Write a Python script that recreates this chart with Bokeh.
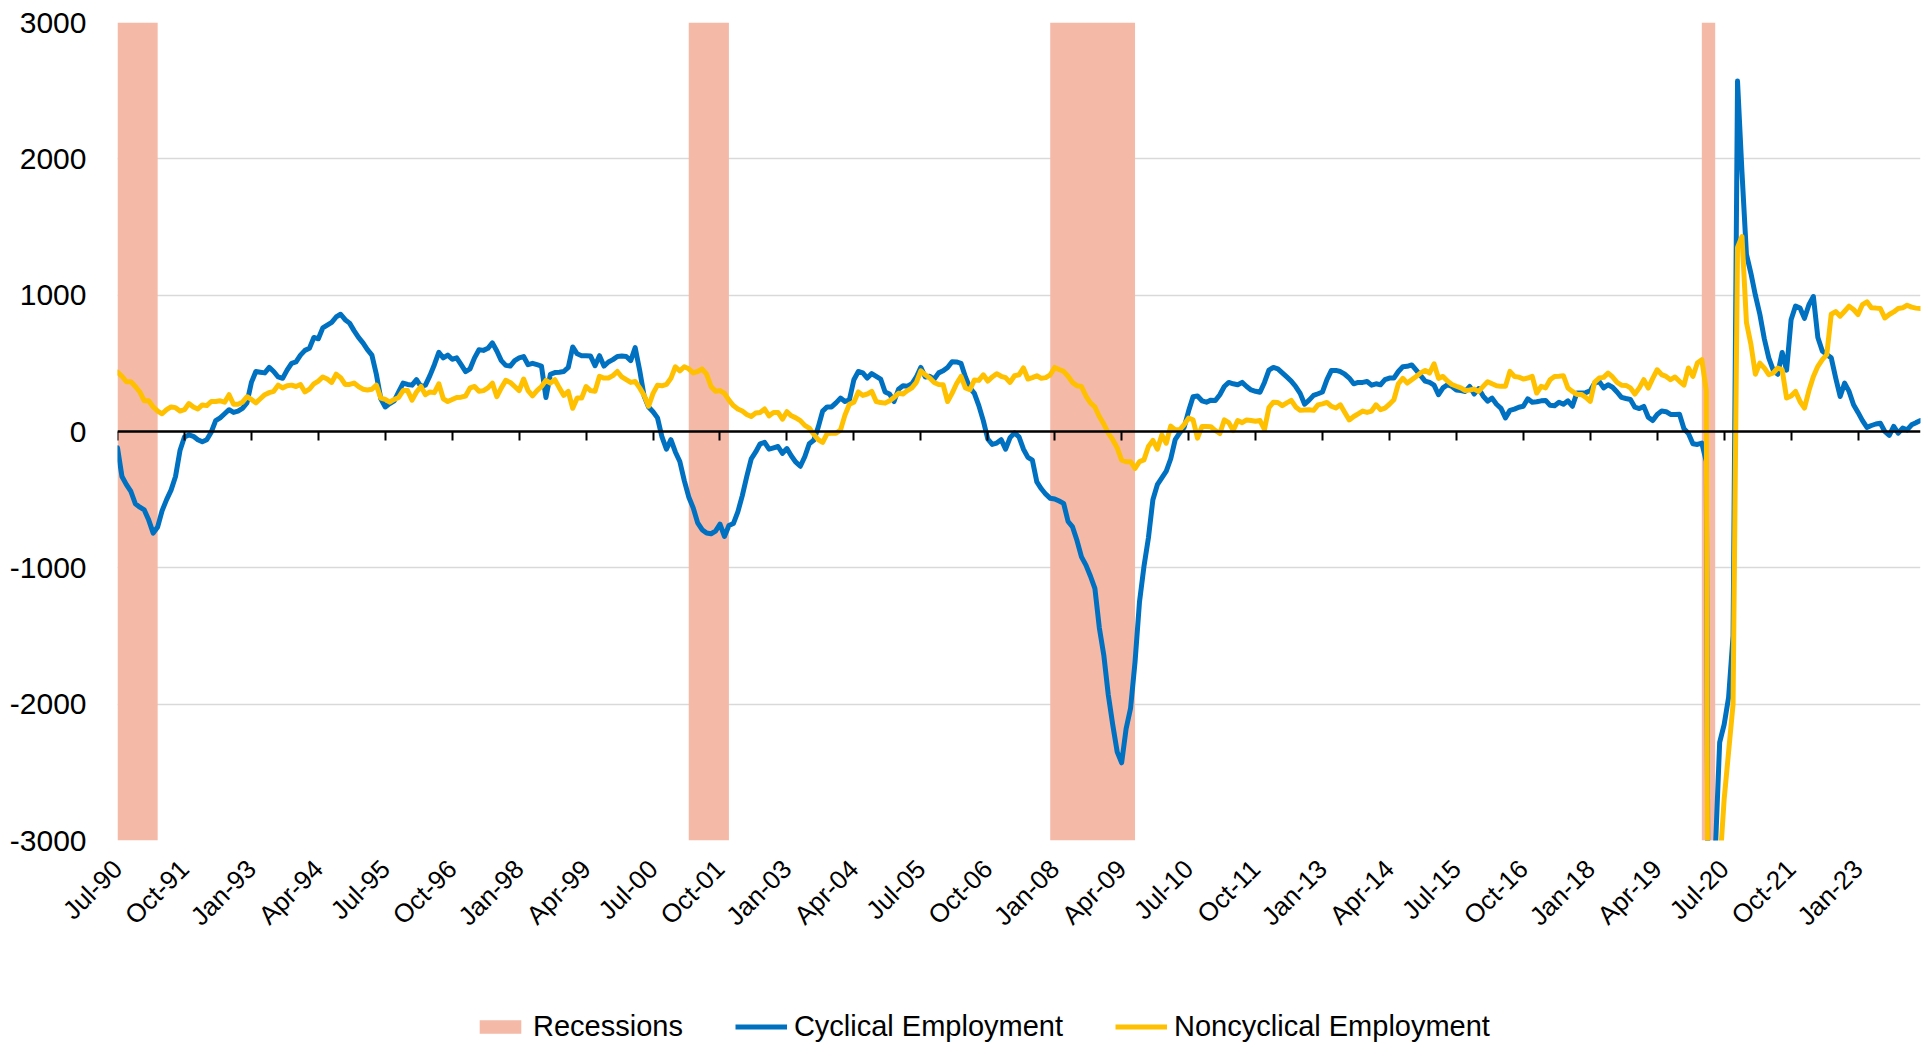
import math
from bokeh.plotting import figure
from bokeh.layouts import column
from bokeh.models import (ColumnDataSource, FixedTicker, LinearAxis, Legend,
                          LegendItem, Range1d)
from bokeh.embed import file_html
from bokeh.resources import INLINE

# ---------------- data ----------------
MONTH_NAMES = ["Jan", "Feb", "Mar", "Apr", "May", "Jun",
               "Jul", "Aug", "Sep", "Oct", "Nov", "Dec"]
first_month = "Jul-90"

tick_labels = ["Jul-90", "Oct-91", "Jan-93", "Apr-94", "Jul-95", "Oct-96",
               "Jan-98", "Apr-99", "Jul-00", "Oct-01", "Jan-03", "Apr-04",
               "Jul-05", "Oct-06", "Jan-08", "Apr-09", "Jul-10", "Oct-11",
               "Jan-13", "Apr-14", "Jul-15", "Oct-16", "Jan-18", "Apr-19",
               "Jul-20", "Oct-21", "Jan-23"]

recessions = [("Jul-90", "Mar-91"), ("Mar-01", "Nov-01"),
              ("Dec-07", "Jun-09"), ("Feb-20", "Apr-20")]

y_ticks = [-3000, -2000, -1000, 0, 1000, 2000, 3000]

# monthly values, Jul-90 onwards (thousands)
cyclical = [
    -120, -330, -390, -440, -530, -555, -575, -650, -745, -700,
    -580, -500, -430, -330, -140, -40, -25, -35, -60, -75,
    -60, -5, 80, 100, 130, 160, 140, 150, 170, 210,
    360, 440, 435, 430, 470, 440, 400, 390, 450, 500,
    510, 560, 595, 610, 690, 680, 760, 780, 800, 840,
    860, 820, 795, 740, 690, 650, 600, 560, 420, 240,
    180, 205, 225, 290, 355, 345, 340, 380, 330, 340,
    410, 490, 580, 540, 560, 530, 540, 490, 440, 460,
    540, 600, 595, 610, 650, 590, 520, 485, 480, 520,
    540, 550, 490, 500, 490, 480, 250, 420, 432, 435,
    440, 470, 620, 570, 556, 556, 553, 483, 556, 480,
    510, 527, 550, 553, 550, 520, 615, 450, 260, 180,
    145, 100, -40, -130, -60, -150, -220, -360, -480, -560,
    -670, -720, -745, -750, -730, -680, -770, -690, -675, -590,
    -470, -330, -200, -150, -90, -80, -130, -120, -110, -160,
    -125, -180, -225, -255, -185, -90, -65, 30, 150, 180,
    180, 210, 245, 220, 233, 380, 440, 430, 392, 425,
    405, 385, 290, 275, 220, 310, 335, 332, 350, 400,
    470, 400, 405, 385, 430, 445, 470, 512, 510, 500,
    400, 320, 280, 190, 80, -55, -95, -85, -60, -130,
    -45, -10, -40, -130, -190, -210, -370, -420, -460, -490,
    -495, -510, -527, -660, -700, -800, -920, -980, -1060, -1150,
    -1440, -1640, -1930, -2150, -2350, -2430, -2180, -2030, -1690, -1250,
    -990, -780, -500, -390, -340, -290, -200, -60, -10, 30,
    150, 255, 260, 225, 215, 230, 228, 270, 330, 360,
    350, 343, 360, 330, 305, 295, 288, 360, 450, 470,
    460, 430, 400, 370, 330, 280, 200, 230, 265, 277,
    290, 380, 448, 448, 440, 420, 392, 350, 360, 360,
    367, 340, 350, 343, 380, 392, 392, 440, 475, 478,
    488, 450, 410, 370, 360, 340, 270, 320, 343, 330,
    305, 300, 294, 330, 275, 315, 260, 222, 245, 200,
    170, 100, 155, 164, 178, 185, 240, 215, 218, 225,
    228, 192, 189, 215, 200, 225, 185, 282, 282, 285,
    299, 355, 368, 320, 343, 325, 290, 250, 242, 235,
    178, 168, 184, 105, 80, 125, 150, 145, 125, 125,
    127, 20, -15, -90, -95, -85, -220, -9000, -3100, -2280,
    -2150, -1950, -1500, 2570, 1900, 1300, 1160, 1000, 860, 680,
    540, 450, 420, 580, 450, 820, 920, 905, 830, 930,
    990, 690, 590, 564, 540, 392, 257, 355, 294, 196,
    140, 80, 30, 44, 55, 61, 0, -29, 37, -12,
    25, 12, 49, 65, 80,
]

noncyclical = [
    435, 405, 365, 365, 330, 290, 225, 225, 180, 150,
    130, 160, 180, 175, 150, 160, 205, 180, 165, 195,
    190, 220, 220, 225, 215, 270, 200, 200, 215, 255,
    235, 210, 240, 270, 285, 295, 340, 320, 335, 340,
    330, 345, 290, 310, 350, 370, 400, 385, 360, 420,
    395, 345, 345, 355, 330, 310, 305, 310, 340, 245,
    235, 215, 235, 250, 300, 300, 230, 290, 330, 270,
    290, 285, 350, 240, 220, 235, 250, 252, 260, 320,
    330, 295, 300, 320, 355, 255, 320, 375, 360, 330,
    300, 385, 300, 262, 300, 330, 375, 355, 380, 320,
    265, 294, 170, 245, 245, 330, 300, 295, 405, 392,
    392, 410, 440, 400, 380, 360, 367, 320, 265, 185,
    280, 340, 335, 345, 390, 475, 445, 475, 460, 430,
    440, 458, 420, 330, 295, 300, 280, 230, 190, 165,
    150, 125, 110, 135, 140, 165, 115, 140, 140, 90,
    145, 115, 100, 80, 45, 25, -20, -60, -80, -15,
    -12, -12, 10, 120, 200, 215, 290, 265, 275, 295,
    220, 212, 208, 225, 250, 280, 275, 300, 320, 360,
    445, 416, 392, 360, 345, 343, 220, 280, 350, 404,
    319, 306, 378, 375, 416, 370, 400, 424, 405, 395,
    360, 409, 416, 466, 385, 395, 409, 390, 395, 416,
    470, 455, 441, 405, 360, 335, 330, 260, 210, 180,
    110, 55, -12, -60, -120, -210, -221, -221, -270, -221,
    -208, -110, -65, -130, -25, -86, 40, 12, 12, 50,
    98, 86, -49, 37, 37, 35, 7, -15, 85, 65,
    7, 80, 65, 85, 80, 75, 80, 15, 175, 215,
    213, 190, 210, 228, 180, 155, 158, 160, 155, 195,
    203, 213, 185, 172, 196, 140, 85, 110, 130, 150,
    140, 150, 196, 160, 172, 200, 233, 350, 390, 355,
    380, 404, 430, 448, 429, 497, 390, 404, 370, 345,
    332, 320, 301, 305, 311, 294, 331, 365, 350, 336,
    331, 331, 441, 404, 399, 385, 392, 404, 282, 331,
    320, 380, 404, 405, 409, 319, 294, 272, 272, 250,
    221, 363, 392, 397, 429, 400, 360, 340, 338, 320,
    275, 320, 380, 319, 390, 453, 417, 404, 380, 400,
    368, 340, 466, 404, 502, 527, 300, -12000, -9000, -3200,
    -2700, -2350, -2000, 1350, 1430, 800, 640, 420, 502, 466,
    417, 429, 466, 453, 245, 260, 294, 220, 172, 300,
    404, 478, 527, 564, 860, 880, 846, 882, 919, 895,
    858, 931, 951, 907, 905, 902, 833, 858, 877, 902,
    907, 926, 912, 905, 902,
]


# ---------------- helpers ----------------
def month_number(label):
    mon, yy = label.split("-")
    y = int(yy)
    year = 1900 + y if y >= 50 else 2000 + y
    return year * 12 + MONTH_NAMES.index(mon)


def month_index(label):
    return month_number(label) - month_number(first_month)


n = len(cyclical)
x = list(range(n))
tick_pos = [month_index(t) for t in tick_labels]

FONT = "Liberation Sans"
BLUE = "#0070C0"
GOLD = "#FFC000"
SALMON = "#F5B9A8"

rec_src = ColumnDataSource(dict(
    left=[month_index(a) for a, b in recessions],
    right=[month_index(b) + 1 for a, b in recessions],
))
src = ColumnDataSource(dict(x=x, cyc=cyclical, non=noncyclical))

# ---------------- main chart ----------------
p = figure(width=1921, height=1000, output_backend="svg", toolbar_location=None,
           x_range=Range1d(0, n - 1), y_range=Range1d(y_ticks[0], y_ticks[-1]))
p.min_border_left = 117
p.min_border_right = 1
p.min_border_top = 22
p.min_border_bottom = 160
p.outline_line_color = None
p.background_fill_color = "white"
p.border_fill_color = "white"

p.xgrid.visible = False
p.ygrid.ticker = FixedTicker(ticks=y_ticks)
p.ygrid.grid_line_color = "#D9D9D9"
p.ygrid.grid_line_width = 1.5

ya = p.yaxis[0]
ya.ticker = FixedTicker(ticks=y_ticks)
ya.major_label_overrides = {v: str(v) for v in y_ticks}
ya.axis_line_color = None
ya.major_tick_line_color = None
ya.minor_tick_line_color = None
ya.major_label_standoff = 25
ya.major_label_text_font = FONT
ya.major_label_text_font_size = "30px"
ya.major_label_text_color = "black"

xa = p.xaxis[0]
xa.ticker = FixedTicker(ticks=tick_pos)
xa.major_label_overrides = {pos: lab for pos, lab in zip(tick_pos, tick_labels)}
xa.major_label_orientation = math.pi / 4
xa.axis_line_color = None
xa.major_tick_line_color = None
xa.minor_tick_line_color = None
xa.major_label_standoff = 18
xa.major_label_text_font = FONT
xa.major_label_text_font_size = "26px"
xa.major_label_text_color = "black"

# zero line with tick marks
za = LinearAxis(ticker=FixedTicker(ticks=tick_pos), fixed_location=0)
za.axis_line_color = "black"
za.axis_line_width = 2.5
za.major_tick_line_color = "black"
za.major_tick_line_width = 2
za.major_tick_in = 0
za.major_tick_out = 9
za.minor_tick_line_color = None
za.major_label_text_font_size = "0px"
za.major_label_text_color = None
za.major_label_standoff = 5
p.add_layout(za, "below")

p.quad(left="left", right="right", bottom=y_ticks[0], top=y_ticks[-1],
       source=rec_src, fill_color=SALMON, line_color=None)
p.line("x", "cyc", source=src, line_color=BLUE, line_width=5,
       line_join="round", line_cap="round")
p.line("x", "non", source=src, line_color=GOLD, line_width=5,
       line_join="round", line_cap="round")

# ---------------- legend strip ----------------
# same series, with a y window that holds none of the values, so only the legend shows
pl = figure(width=1921, height=43, output_backend="svg", toolbar_location=None,
            x_range=p.x_range, y_range=Range1d(100000, 100001),
            x_axis_location=None, y_axis_location=None)
pl.min_border = 0
pl.outline_line_color = None
pl.grid.visible = False
l_rec = pl.quad(left="left", right="right", bottom=y_ticks[0], top=y_ticks[-1],
                source=rec_src, fill_color=SALMON, line_color=None)
l_cyc = pl.line("x", "cyc", source=src, line_color=BLUE, line_width=5)
l_non = pl.line("x", "non", source=src, line_color=GOLD, line_width=5)

legend = Legend(items=[LegendItem(label="Recessions", renderers=[l_rec]),
                       LegendItem(label="Cyclical Employment", renderers=[l_cyc]),
                       LegendItem(label="Noncyclical Employment", renderers=[l_non])],
                orientation="horizontal", location=(357, 0),
                glyph_width=52, glyph_height=17, label_standoff=7, spacing=52,
                padding=0, margin=0, border_line_color=None,
                background_fill_alpha=0,
                label_text_font=FONT, label_text_font_size="29px",
                label_text_color="black")
pl.add_layout(legend, "center")

open("out.html", "w").write(file_html(column(p, pl, spacing=0), INLINE))
